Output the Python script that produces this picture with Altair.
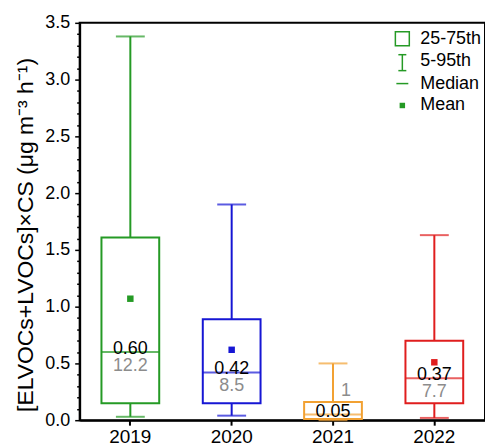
import altair as alt
import pandas as pd

years = ["2019", "2020", "2021", "2022"]
p5 = [0.03, 0.04, 0.0, 0.02]
p25 = [0.15, 0.15, 0.01, 0.15]
p50 = [0.60, 0.42, 0.05, 0.37]
p75 = [1.61, 0.89, 0.16, 0.70]
p95 = [3.38, 1.90, 0.50, 1.63]
means = [1.07, 0.62, None, 0.51]
median_labels = ["0.60", "0.42", "0.05", "0.37"]
count_labels = ["12.2", "8.5", "1", "7.7"]
colors = ["#259a25", "#1616d4", "#f2a132", "#e01e1e"]
legend_labels = ["25-75th", "5-95th", "Median", "Mean"]
y_title = "[ELVOCs+LVOCs]×CS (μg m⁻³ h⁻¹)"

df = pd.DataFrame(dict(year=years, p5=p5, p25=p25, p50=p50, p75=p75, p95=p95,
                       mean=means, mlab=median_labels, clab=count_labels))

W, H = 407, 399
FONT = "Liberation Sans"
GREEN = colors[0]

yticks = [round(i * 0.1, 1) for i in range(36)]
major = "abs(round(datum.value*10)%5)==0"
yaxis = alt.Axis(
    title=None,
    values=yticks,
    labelExpr=f"{major} ? format(datum.value, '.1f') : ''",
    labelOverlap=False,
    labelFont=FONT, labelFontSize=18, labelColor="black", labelPadding=5,
    tickSize={"condition": {"test": major, "value": 5}, "value": 3},
    tickWidth=1.5, tickColor="black",
    domainColor="black", domainWidth=2, grid=False,
)
yscale = alt.Scale(domain=[0, 3.5], nice=False, zero=True)

xaxis = alt.Axis(title=None, labelFont=FONT, labelFontSize=19, labelColor="black",
                 labelAngle=0, tickSize=5, tickWidth=2, tickColor="black",
                 domainColor="black", domainWidth=2, labelPadding=2, grid=False)
X = alt.X("year:N", scale=alt.Scale(domain=years, paddingInner=0, paddingOuter=0), axis=xaxis)
C = alt.Color("year:N", scale=alt.Scale(domain=years, range=colors), legend=None)


def Y(field):
    return alt.Y(f"{field}:Q", scale=yscale, axis=yaxis)


base = alt.Chart(df)

whisk_lo = base.mark_rule(strokeWidth=2).encode(x=X, y=Y("p5"), y2="p25", color=C)
whisk_hi = base.mark_rule(strokeWidth=2).encode(x=X, y=Y("p75"), y2="p95", color=C)
cap_lo = base.mark_tick(orient="horizontal", size=29, thickness=2).encode(x=X, y=Y("p5"), color=C)
cap_hi = base.mark_tick(orient="horizontal", size=29, thickness=2).encode(x=X, y=Y("p95"), color=C)
box = base.mark_bar(size=58, fill="white", strokeWidth=2).encode(
    x=X, y=Y("p25"), y2="p75", stroke=alt.Stroke("year:N", scale=alt.Scale(domain=years, range=colors), legend=None))
med = base.mark_tick(orient="horizontal", size=58, thickness=2).encode(x=X, y=Y("p50"), color=C)
mean = base.mark_square(size=42, opacity=1).encode(x=X, y=Y("mean"), color=C)

mtext = base.mark_text(font=FONT, fontSize=18, baseline="alphabetic", dy=2, color="black").encode(
    x=X, y=Y("p50"), text="mlab:N")
ctext = base.transform_filter("datum.year != '2021'").mark_text(
    font=FONT, fontSize=18, baseline="top", dy=5, color="#8c8c8c").encode(
    x=X, y=Y("p50"), text="clab:N")
ctext21 = base.transform_filter("datum.year == '2021'").mark_text(
    font=FONT, fontSize=18, baseline="alphabetic", dy=-19, dx=13, color="#8c8c8c").encode(
    x=X, y=Y("p50"), text="clab:N")

title = alt.Chart(pd.DataFrame({"t": [y_title]})).mark_text(
    font=FONT, fontSize=23, angle=270, align="center", baseline="middle", color="black").encode(
    x=alt.value(-54), y=alt.value(213), text="t:N")

# legend
def ltext(i, yv):
    return alt.Chart(pd.DataFrame({"t": [legend_labels[i]]})).mark_text(
        font=FONT, fontSize=18, align="left", baseline="middle", color="black").encode(
        x=alt.value(342), y=alt.value(yv), text="t:N")

lx = 324
leg_box = alt.Chart(pd.DataFrame({"t": [legend_labels[0]]})).mark_point(
    shape="square", filled=False, size=196, strokeWidth=1.5, color=GREEN, opacity=1).encode(
    x=alt.value(lx), y=alt.value(16))
leg_i = alt.Chart(pd.DataFrame({"t": [legend_labels[1]]})).mark_rule(strokeWidth=1.5, color=GREEN).encode(
    x=alt.value(lx), y=alt.value(32), y2=alt.value(48))
leg_i_top = alt.Chart(pd.DataFrame({"t": [legend_labels[1]]})).mark_rule(strokeWidth=1.5, color=GREEN).encode(
    x=alt.value(lx - 4), x2=alt.value(lx + 4), y=alt.value(32))
leg_i_bot = alt.Chart(pd.DataFrame({"t": [legend_labels[1]]})).mark_rule(strokeWidth=1.5, color=GREEN).encode(
    x=alt.value(lx - 4), x2=alt.value(lx + 4), y=alt.value(48))
leg_med = alt.Chart(pd.DataFrame({"t": [legend_labels[2]]})).mark_rule(strokeWidth=1.5, color=GREEN).encode(
    x=alt.value(lx - 6), x2=alt.value(lx + 6), y=alt.value(61))
leg_mean = alt.Chart(pd.DataFrame({"t": [legend_labels[3]]})).mark_square(size=30, color=GREEN, opacity=1).encode(
    x=alt.value(lx), y=alt.value(83))

chart = alt.layer(
    whisk_lo, whisk_hi, cap_lo, cap_hi, box, med, mean, mtext, ctext, ctext21, title,
    leg_box, leg_i, leg_i_top, leg_i_bot, leg_med, leg_mean,
    ltext(0, 16), ltext(1, 38), ltext(2, 61), ltext(3, 83),
).properties(
    width=W, height=H,
    autosize=alt.AutoSizeParams(type="none"),
    padding={"left": 80, "top": 22, "right": 0, "bottom": 27},
    background="white",
).configure_view(stroke="black", strokeWidth=2, clip=False)

chart.save("out.html", embed_options={"renderer": "svg", "actions": False})
